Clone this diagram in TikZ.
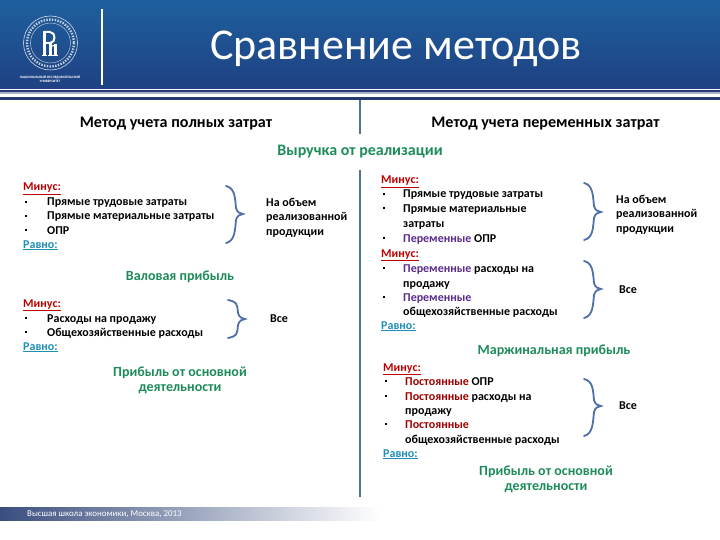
\documentclass[tikz,border=0pt]{standalone}
\usepackage{fontspec}
\setmainfont{Carlito}
\definecolor{hdrtop}{HTML}{1F5F9E}
\definecolor{hdrbot}{HTML}{1F4182}
\definecolor{navy}{HTML}{243A70}
\definecolor{divider}{HTML}{4F7290}
\definecolor{minusred}{HTML}{C00000}
\definecolor{plusblue}{HTML}{1F8FB5}
\definecolor{profit}{HTML}{1E8C5A}
\definecolor{brace}{HTML}{4F6FA8}
\definecolor{varcol}{HTML}{5B2C8C}
\definecolor{fixcol}{HTML}{A00000}
\tikzset{
  x=1pt,y=-1pt,
  body/.style={anchor=west,inner sep=0pt,yshift=-1.5pt,text height=8pt,text depth=3pt,font=\fontsize{12}{13}\selectfont\bfseries,text=black},
  bullet/.style={fill=black,inner sep=0pt,minimum size=2.8pt,rectangle},
  lblminus/.style={body,text=minusred},
  lblequal/.style={body,text=plusblue},
  result/.style={anchor=center,inner sep=0pt,yshift=-1.5pt,font=\fontsize{14}{15}\selectfont\bfseries,text=profit},
  column/.style={anchor=center,inner sep=0pt,yshift=-1.5pt,font=\fontsize{16.1}{18}\selectfont\bfseries,text=black},
  bracecurve/.style={draw=brace,line width=1.8pt,line cap=round},
}
\newcommand{\bracemark}[4]{% x top tip bottom
  \draw[bracecurve] (#1,#2) .. controls (#1+9,#2+2) and (#1+9,#3-16) .. (#1+10,#3-6)
    .. controls (#1+11,#3-2) and (#1+14,#3) .. (#1+17,#3)
    .. controls (#1+14,#3) and (#1+11,#3+2) .. (#1+10,#3+6)
    .. controls (#1+9,#3+16) and (#1+9,#4-2) .. (#1,#4);}
\begin{document}
\begin{tikzpicture}
\useasboundingbox (0,0) rectangle (720,540);
\fill[white] (0,0) rectangle (720,540);
% header
\shade[top color=hdrtop,bottom color=hdrbot] (0,0) rectangle (720,89);
\fill[navy] (0,90) rectangle (720,92);
\fill[navy] (0,97.5) rectangle (720,100);
\fill[hdrbot!40] (0,92) rectangle (720,94);
\draw[white,line width=1.4pt] (102,9) -- (102,85);
\node[anchor=center,inner sep=0pt,font=\fontsize{44}{48}\selectfont,text=white] (title) at (396,49) {Сравнение методов};
% logo
\draw[white!80!hdrbot,line width=0.6pt] (50.5,43) circle (27);
\draw[white!75!hdrbot,line width=2.4pt,dash pattern=on 1.4pt off 1.4pt] (50.5,43) circle (23.5);
\draw[white!70!hdrbot,line width=0.5pt] (50.5,43) circle (20);
\fill[white] (43,31) rectangle (46,55);
\fill[white] (42,55) rectangle (47,56.5);
\draw[white,line width=2pt] (44,32) -- (50,32) .. controls (56,32) and (56,43) .. (50,43) -- (45,43);
\fill[white] (49,43) rectangle (52,55);
\fill[white] (54,44) rectangle (56.5,55);
\draw[white,line width=1.1pt] (50,47) -- (55,45);
\fill[white] (48,55) rectangle (58,56.5);
\node[anchor=center,inner sep=0pt,font=\fontsize{3.4}{4}\selectfont\bfseries,text=white] (logoa) at (50,77) {НАЦИОНАЛЬНЫЙ ИССЛЕДОВАТЕЛЬСКИЙ};
\node[anchor=center,inner sep=0pt,font=\fontsize{3.4}{4}\selectfont\bfseries,text=white] (logob) at (50,81) {УНИВЕРСИТЕТ};
% column dividers
\draw[divider,line width=1.8pt] (360,100) -- (360,134);
\draw[divider,line width=1.8pt] (360,170) -- (360,497);
% column titles
\node[column] (colL) at (176,122) {Метод учета полных затрат};
\node[column] (colR) at (545.5,122) {Метод учета переменных затрат};
\node[result,font=\fontsize{16}{18}\selectfont\bfseries] (rev) at (360,150) {Выручка от реализации};
% left column, block 1
\node[lblminus] (l1) at (23,187) {\underline{Минус:}};
\node[bullet] (l1b) at (26,202) {}; \node[body] (l2) at (47,202) {Прямые трудовые затраты};
\node[bullet] (l2b) at (26,216) {}; \node[body] (l3) at (47,216) {Прямые материальные затраты};
\node[bullet] (l3b) at (26,230) {}; \node[body] (l4) at (47,230) {ОПР};
\node[lblequal] (l5) at (23,244) {\underline{Равно:}};
\bracemark{226}{186}{214}{243}
\node[body] (l6) at (266,203) {На объем};
\node[body] (l7) at (266,217) {реализованной};
\node[body] (l8) at (266,232) {продукции};
\node[result] (gross) at (180,275) {Валовая прибыль};
% left column, block 2
\node[lblminus] (m1) at (23,303) {\underline{Минус:}};
\node[bullet] (m1b) at (26,318) {}; \node[body] (m2) at (47,318) {Расходы на продажу};
\node[bullet] (m2b) at (26,332) {}; \node[body] (m3) at (47,332) {Общехозяйственные расходы};
\node[lblequal] (m4) at (23,346) {\underline{Равно:}};
\bracemark{228}{300}{319}{338}
\node[body] (m5) at (270,318) {Все};
\node[result] (op1a) at (180,371) {Прибыль от основной};
\node[result] (op1b) at (180,388) {деятельности};
% right column, block 1
\node[lblminus] (r1) at (381,180) {\underline{Минус:}};
\node[bullet] (r1b) at (384,194) {}; \node[body] (r2) at (403,194) {Прямые трудовые затраты};
\node[bullet] (r2b) at (384,208) {}; \node[body] (r3) at (403,208) {Прямые материальные};
\node[body] (r4) at (403,223) {затраты};
\node[bullet] (r3b) at (384,238) {}; \node[body] (r5) at (403,238) {\textcolor{varcol}{Переменные} ОПР};
\node[lblminus] (r6) at (381,253) {\underline{Минус:}};
\node[bullet] (r4b) at (384,268) {}; \node[body] (r7) at (403,268) {\textcolor{varcol}{Переменные} расходы на};
\node[body] (r8) at (403,283) {продажу};
\node[bullet] (r5b) at (384,297) {}; \node[body] (r9) at (403,297) {\textcolor{varcol}{Переменные}};
\node[body] (r10) at (403,311) {общехозяйственные расходы};
\node[lblequal] (r11) at (381,325) {\underline{Равно:}};
\bracemark{584}{183}{212}{240}
\bracemark{584}{261}{289}{318}
\node[body] (r12) at (616,200) {На объем};
\node[body] (r13) at (616,214) {реализованной};
\node[body] (r14) at (616,229) {продукции};
\node[body] (r15) at (619,289) {Все};
\node[result] (margin) at (554,349) {Маржинальная прибыль};
% right column, block 2
\node[lblminus] (s1) at (383,367) {\underline{Минус:}};
\node[bullet] (s1b) at (386,381) {}; \node[body] (s2) at (405,381) {\textcolor{fixcol}{Постоянные} ОПР};
\node[bullet] (s2b) at (386,396) {}; \node[body] (s3) at (405,396) {\textcolor{fixcol}{Постоянные} расходы на};
\node[body] (s4) at (405,410) {продажу};
\node[bullet] (s3b) at (386,424) {}; \node[body] (s5) at (405,424) {\textcolor{fixcol}{Постоянные}};
\node[body] (s6) at (405,439) {общехозяйственные расходы};
\node[lblequal] (s7) at (383,453) {\underline{Равно:}};
\bracemark{584}{379}{406}{436}
\node[body] (s8) at (619,405) {Все};
\node[result] (op2a) at (546,470) {Прибыль от основной};
\node[result] (op2b) at (546,487) {деятельности};
% footer
\shade[left color=navy!90,right color=white] (0,507) rectangle (380,520);
\node[anchor=west,inner sep=0pt,font=\fontsize{8.9}{10}\selectfont,text=white] (foot) at (27,514) {Высшая школа экономики, Москва, 2013};
\end{tikzpicture}
\end{document}
